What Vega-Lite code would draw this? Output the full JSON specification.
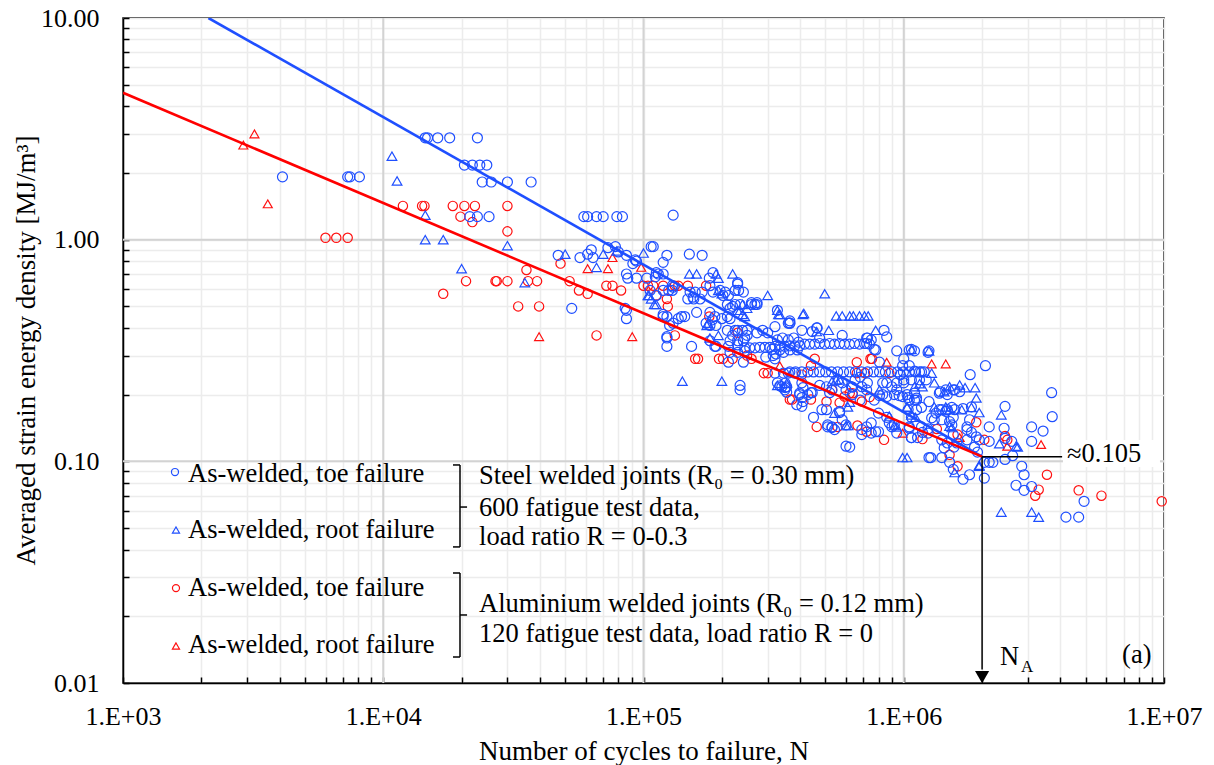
{
  "$schema": "https://vega.github.io/schema/vega-lite/v6.json",
  "width": 1041,
  "height": 665,
  "autosize": "none",
  "padding": {"left": 123, "top": 18, "right": 50, "bottom": 82},
  "background": "white",
  "config": {"font": "Liberation Serif", "view": {"stroke": "black", "strokeWidth": 1.5}},
  "datasets": {
    "pts": [
      {"N":2900,"E":2.67,"g":"ar"},{"N":3200,"E":3.0,"g":"ar"},{"N":3600,"E":1.45,"g":"ar"},{"N":39700,"E":0.365,"g":"ar"},{"N":90500,"E":0.365,"g":"ar"},{"N":61000,"E":0.74,"g":"ar"},{"N":73000,"E":0.74,"g":"ar"},{"N":76000,"E":0.83,"g":"ar"},{"N":98000,"E":0.75,"g":"ar"},{"N":334000,"E":0.27,"g":"ar"},{"N":860000,"E":0.28,"g":"ar"},{"N":1280000,"E":0.275,"g":"ar"},{"N":1450000,"E":0.275,"g":"ar"},{"N":990000,"E":0.134,"g":"ar"},{"N":1640000,"E":0.128,"g":"ar"},{"N":2500000,"E":0.117,"g":"ar"},{"N":3370000,"E":0.119,"g":"ar"},
      {"N":6000,"E":1.02,"g":"at"},{"N":6600,"E":1.02,"g":"at"},{"N":7300,"E":1.02,"g":"at"},{"N":11900,"E":1.42,"g":"at"},{"N":14100,"E":1.42,"g":"at"},{"N":14400,"E":1.42,"g":"at"},{"N":18500,"E":1.42,"g":"at"},{"N":20500,"E":1.42,"g":"at"},{"N":22500,"E":1.42,"g":"at"},{"N":30000,"E":1.42,"g":"at"},{"N":19800,"E":1.27,"g":"at"},{"N":22000,"E":1.2,"g":"at"},{"N":30000,"E":1.09,"g":"at"},{"N":17000,"E":0.57,"g":"at"},{"N":20800,"E":0.65,"g":"at"},{"N":27000,"E":0.65,"g":"at"},{"N":27300,"E":0.65,"g":"at"},{"N":30000,"E":0.65,"g":"at"},{"N":35500,"E":0.73,"g":"at"},{"N":36000,"E":0.65,"g":"at"},{"N":39000,"E":0.65,"g":"at"},{"N":33000,"E":0.5,"g":"at"},{"N":39700,"E":0.5,"g":"at"},{"N":48000,"E":0.78,"g":"at"},{"N":52000,"E":0.65,"g":"at"},{"N":56500,"E":0.59,"g":"at"},{"N":61000,"E":0.57,"g":"at"},{"N":66000,"E":0.37,"g":"at"},{"N":72000,"E":0.62,"g":"at"},{"N":76000,"E":0.62,"g":"at"},{"N":82000,"E":0.59,"g":"at"},{"N":100000,"E":0.62,"g":"at"},{"N":104000,"E":0.62,"g":"at"},{"N":109000,"E":0.62,"g":"at"},{"N":119000,"E":0.62,"g":"at"},{"N":132000,"E":0.62,"g":"at"},{"N":136000,"E":0.62,"g":"at"},{"N":148000,"E":0.62,"g":"at"},{"N":174000,"E":0.62,"g":"at"},{"N":112000,"E":0.56,"g":"at"},{"N":123000,"E":0.54,"g":"at"},{"N":124000,"E":0.5,"g":"at"},{"N":132000,"E":0.37,"g":"at"},{"N":179000,"E":0.45,"g":"at"},{"N":230000,"E":0.38,"g":"at"},{"N":158000,"E":0.29,"g":"at"},{"N":162000,"E":0.29,"g":"at"},{"N":195000,"E":0.29,"g":"at"},{"N":202000,"E":0.29,"g":"at"},{"N":220000,"E":0.29,"g":"at"},{"N":250000,"E":0.3,"g":"at"},{"N":260000,"E":0.29,"g":"at"},{"N":300000,"E":0.25,"g":"at"},{"N":290000,"E":0.25,"g":"at"},{"N":365000,"E":0.19,"g":"at"},{"N":372000,"E":0.19,"g":"at"},{"N":440000,"E":0.19,"g":"at"},{"N":505000,"E":0.186,"g":"at"},{"N":567000,"E":0.184,"g":"at"},{"N":440000,"E":0.27,"g":"at"},{"N":455000,"E":0.29,"g":"at"},{"N":406000,"E":0.246,"g":"at"},{"N":592000,"E":0.196,"g":"at"},{"N":636000,"E":0.203,"g":"at"},{"N":463000,"E":0.143,"g":"at"},{"N":557000,"E":0.143,"g":"at"},{"N":664000,"E":0.145,"g":"at"},{"N":720000,"E":0.136,"g":"at"},{"N":840000,"E":0.125,"g":"at"},{"N":755000,"E":0.29,"g":"at"},{"N":660000,"E":0.25,"g":"at"},{"N":710000,"E":0.25,"g":"at"},{"N":880000,"E":0.25,"g":"at"},{"N":1180000,"E":0.126,"g":"at"},{"N":1500000,"E":0.107,"g":"at"},{"N":1610000,"E":0.095,"g":"at"},{"N":1610000,"E":0.132,"g":"at"},{"N":1900000,"E":0.15,"g":"at"},{"N":2040000,"E":0.125,"g":"at"},{"N":530000,"E":0.21,"g":"at"},{"N":620000,"E":0.203,"g":"at"},{"N":690000,"E":0.186,"g":"at"},{"N":740000,"E":0.195,"g":"at"},{"N":660000,"E":0.28,"g":"at"},{"N":745000,"E":0.29,"g":"at"},{"N":1340000,"E":0.14,"g":"at"},{"N":2450000,"E":0.13,"g":"at"},{"N":2500000,"E":0.125,"g":"at"},{"N":3300000,"E":0.0745,"g":"at"},{"N":3200000,"E":0.07,"g":"at"},{"N":3550000,"E":0.087,"g":"at"},{"N":4700000,"E":0.074,"g":"at"},{"N":5750000,"E":0.07,"g":"at"},{"N":9800000,"E":0.066,"g":"at"},
      {"N":10800,"E":2.38,"g":"sr"},{"N":11300,"E":1.84,"g":"sr"},{"N":14500,"E":1.29,"g":"sr"},{"N":14500,"E":1.0,"g":"sr"},{"N":17000,"E":1.0,"g":"sr"},{"N":20000,"E":0.74,"g":"sr"},{"N":35000,"E":0.64,"g":"sr"},{"N":30000,"E":0.94,"g":"sr"},{"N":50000,"E":0.86,"g":"sr"},{"N":66000,"E":0.75,"g":"sr"},{"N":70000,"E":0.86,"g":"sr"},{"N":79000,"E":0.89,"g":"sr"},{"N":100000,"E":0.87,"g":"sr"},{"N":105000,"E":0.56,"g":"sr"},{"N":110000,"E":0.51,"g":"sr"},{"N":150000,"E":0.7,"g":"sr"},{"N":160000,"E":0.7,"g":"sr"},{"N":190000,"E":0.7,"g":"sr"},{"N":194000,"E":0.67,"g":"sr"},{"N":220000,"E":0.7,"g":"sr"},{"N":240000,"E":0.51,"g":"sr"},{"N":240000,"E":0.46,"g":"sr"},{"N":180000,"E":0.36,"g":"sr"},{"N":194000,"E":0.37,"g":"sr"},{"N":300000,"E":0.56,"g":"sr"},{"N":327000,"E":0.48,"g":"sr"},{"N":330000,"E":0.46,"g":"sr"},{"N":141000,"E":0.23,"g":"sr"},{"N":200000,"E":0.23,"g":"sr"},{"N":327000,"E":0.22,"g":"sr"},{"N":104000,"E":0.56,"g":"sr"},{"N":107000,"E":0.54,"g":"sr"},{"N":112000,"E":0.51,"g":"sr"},{"N":194000,"E":0.59,"g":"sr"},{"N":200000,"E":0.57,"g":"sr"},{"N":235000,"E":0.48,"g":"sr"},{"N":245000,"E":0.45,"g":"sr"},{"N":230000,"E":0.48,"g":"sr"},{"N":250000,"E":0.49,"g":"sr"},{"N":177000,"E":0.42,"g":"sr"},{"N":175000,"E":0.41,"g":"sr"},{"N":497000,"E":0.57,"g":"sr"},{"N":334000,"E":0.46,"g":"sr"},{"N":410000,"E":0.46,"g":"sr"},{"N":413000,"E":0.465,"g":"sr"},{"N":550000,"E":0.453,"g":"sr"},{"N":580000,"E":0.453,"g":"sr"},{"N":620000,"E":0.453,"g":"sr"},{"N":640000,"E":0.453,"g":"sr"},{"N":676000,"E":0.453,"g":"sr"},{"N":707000,"E":0.453,"g":"sr"},{"N":730000,"E":0.453,"g":"sr"},{"N":463000,"E":0.385,"g":"sr"},{"N":515000,"E":0.39,"g":"sr"},{"N":780000,"E":0.39,"g":"sr"},{"N":1070000,"E":0.32,"g":"sr"},{"N":1250000,"E":0.315,"g":"sr"},{"N":1280000,"E":0.25,"g":"sr"},{"N":1100000,"E":0.217,"g":"sr"},{"N":1180000,"E":0.217,"g":"sr"},{"N":1310000,"E":0.226,"g":"sr"},{"N":1430000,"E":0.206,"g":"sr"},{"N":1030000,"E":0.175,"g":"sr"},{"N":1310000,"E":0.176,"g":"sr"},{"N":530000,"E":0.229,"g":"sr"},{"N":550000,"E":0.233,"g":"sr"},{"N":610000,"E":0.176,"g":"sr"},{"N":620000,"E":0.185,"g":"sr"},{"N":600000,"E":0.145,"g":"sr"},{"N":612000,"E":0.145,"g":"sr"},{"N":920000,"E":0.145,"g":"sr"},{"N":940000,"E":0.143,"g":"sr"},{"N":542000,"E":0.165,"g":"sr"},{"N":807000,"E":0.21,"g":"sr"},{"N":355000,"E":0.225,"g":"sr"},{"N":1720000,"E":0.215,"g":"sr"},{"N":1880000,"E":0.215,"g":"sr"},{"N":1450000,"E":0.176,"g":"sr"},{"N":1500000,"E":0.171,"g":"sr"},{"N":1670000,"E":0.171,"g":"sr"},{"N":1820000,"E":0.175,"g":"sr"},{"N":1950000,"E":0.166,"g":"sr"},{"N":1500000,"E":0.144,"g":"sr"},{"N":1530000,"E":0.142,"g":"sr"},{"N":2370000,"E":0.162,"g":"sr"},{"N":2330000,"E":0.12,"g":"sr"},{"N":2700000,"E":0.117,"g":"sr"},{"N":2740000,"E":0.116,"g":"sr"},{"N":1570000,"E":0.089,"g":"sr"},{"N":1950000,"E":0.095,"g":"sr"},{"N":2370000,"E":0.059,"g":"sr"},{"N":3100000,"E":0.059,"g":"sr"},{"N":3300000,"E":0.056,"g":"sr"},{"N":990000,"E":0.104,"g":"sr"},{"N":1030000,"E":0.104,"g":"sr"},{"N":1030000,"E":0.176,"g":"sr"},{"N":880000,"E":0.16,"g":"sr"},{"N":1150000,"E":0.224,"g":"sr"},{"N":1070000,"E":0.162,"g":"sr"},{"N":1110000,"E":0.158,"g":"sr"},{"N":1900000,"E":0.193,"g":"sr"},{"N":1500000,"E":0.217,"g":"sr"},{"N":1640000,"E":0.221,"g":"sr"},{"N":567000,"E":0.233,"g":"sr"},{"N":1950000,"E":0.096,"g":"sr"},
      {"N":4100,"E":1.92,"g":"st"},{"N":7300,"E":1.92,"g":"st"},{"N":7450,"E":1.92,"g":"st"},{"N":8100,"E":1.92,"g":"st"},{"N":14500,"E":2.88,"g":"st"},{"N":14800,"E":2.88,"g":"st"},{"N":16200,"E":2.88,"g":"st"},{"N":18000,"E":2.88,"g":"st"},{"N":23000,"E":2.88,"g":"st"},{"N":20500,"E":2.17,"g":"st"},{"N":22000,"E":2.17,"g":"st"},{"N":23500,"E":2.17,"g":"st"},{"N":25000,"E":2.17,"g":"st"},{"N":24000,"E":1.82,"g":"st"},{"N":26000,"E":1.82,"g":"st"},{"N":30000,"E":1.82,"g":"st"},{"N":37000,"E":1.82,"g":"st"},{"N":21500,"E":1.27,"g":"st"},{"N":23000,"E":1.27,"g":"st"},{"N":25500,"E":1.27,"g":"st"},{"N":59000,"E":1.27,"g":"st"},{"N":61000,"E":1.27,"g":"st"},{"N":66000,"E":1.27,"g":"st"},{"N":70000,"E":1.27,"g":"st"},{"N":79000,"E":1.27,"g":"st"},{"N":83000,"E":1.27,"g":"st"},{"N":130000,"E":1.29,"g":"st"},
      {"N":47000,"E":0.85,"g":"st"},{"N":57000,"E":0.83,"g":"st"},{"N":61000,"E":0.86,"g":"st"},{"N":63000,"E":0.9,"g":"st"},{"N":64000,"E":0.83,"g":"st"},{"N":73000,"E":0.92,"g":"st"},{"N":78000,"E":0.93,"g":"st"},{"N":80000,"E":0.88,"g":"st"},{"N":86000,"E":0.85,"g":"st"},{"N":93000,"E":0.81,"g":"st"},{"N":107000,"E":0.93,"g":"st"},{"N":109000,"E":0.93,"g":"st"},{"N":123000,"E":0.85,"g":"st"},{"N":119000,"E":0.79,"g":"st"},{"N":150000,"E":0.86,"g":"st"},{"N":168000,"E":0.85,"g":"st"},{"N":86000,"E":0.7,"g":"st"},{"N":87000,"E":0.67,"g":"st"},{"N":94000,"E":0.67,"g":"st"},{"N":103000,"E":0.67,"g":"st"},{"N":112000,"E":0.71,"g":"st"},{"N":111000,"E":0.68,"g":"st"},{"N":119000,"E":0.7,"g":"st"},{"N":179000,"E":0.67,"g":"st"},{"N":130000,"E":0.61,"g":"st"},{"N":125000,"E":0.59,"g":"st"},{"N":119000,"E":0.59,"g":"st"},{"N":106000,"E":0.59,"g":"st"},{"N":156000,"E":0.54,"g":"st"},{"N":165000,"E":0.54,"g":"st"},{"N":148000,"E":0.54,"g":"st"},{"N":185000,"E":0.58,"g":"st"},{"N":202000,"E":0.56,"g":"st"},{"N":197000,"E":0.59,"g":"st"},{"N":225000,"E":0.59,"g":"st"},{"N":230000,"E":0.63,"g":"st"},{"N":210000,"E":0.51,"g":"st"},{"N":225000,"E":0.51,"g":"st"},{"N":260000,"E":0.51,"g":"st"},{"N":268000,"E":0.51,"g":"st"},{"N":123000,"E":0.45,"g":"st"},{"N":119000,"E":0.45,"g":"st"},{"N":144000,"E":0.45,"g":"st"},{"N":140000,"E":0.45,"g":"st"},{"N":160000,"E":0.47,"g":"st"},{"N":210000,"E":0.45,"g":"st"},{"N":188000,"E":0.45,"g":"st"},{"N":174000,"E":0.42,"g":"st"},{"N":180000,"E":0.41,"g":"st"},{"N":210000,"E":0.39,"g":"st"},{"N":225000,"E":0.39,"g":"st"},{"N":250000,"E":0.39,"g":"st"},{"N":242000,"E":0.35,"g":"st"},{"N":126000,"E":0.41,"g":"st"},{"N":130000,"E":0.42,"g":"st"},{"N":123000,"E":0.36,"g":"st"},{"N":123000,"E":0.33,"g":"st"},{"N":153000,"E":0.33,"g":"st"},{"N":190000,"E":0.33,"g":"st"},{"N":215000,"E":0.35,"g":"st"},{"N":230000,"E":0.35,"g":"st"},{"N":212000,"E":0.28,"g":"st"},{"N":242000,"E":0.28,"g":"st"},{"N":320000,"E":0.29,"g":"st"},{"N":323000,"E":0.305,"g":"st"},{"N":312000,"E":0.32,"g":"st"},{"N":300000,"E":0.38,"g":"st"},{"N":360000,"E":0.42,"g":"st"},{"N":85000,"E":0.49,"g":"st"},{"N":86000,"E":0.44,"g":"st"},{"N":53000,"E":0.49,"g":"st"},{"N":235000,"E":0.21,"g":"st"},
      {"N":94000,"E":0.8,"g":"st"},{"N":91000,"E":0.78,"g":"st"},{"N":114000,"E":0.7,"g":"st"},{"N":129000,"E":0.62,"g":"st"},{"N":129000,"E":0.59,"g":"st"},{"N":112000,"E":0.56,"g":"st"},{"N":151000,"E":0.58,"g":"st"},{"N":158000,"E":0.58,"g":"st"},{"N":168000,"E":0.58,"g":"st"},{"N":155000,"E":0.55,"g":"st"},{"N":180000,"E":0.62,"g":"st"},{"N":206000,"E":0.58,"g":"st"},{"N":212000,"E":0.56,"g":"st"},{"N":220000,"E":0.5,"g":"st"},{"N":235000,"E":0.51,"g":"st"},{"N":273000,"E":0.51,"g":"st"},{"N":215000,"E":0.49,"g":"st"},{"N":86000,"E":0.48,"g":"st"},{"N":119000,"E":0.46,"g":"st"},{"N":136000,"E":0.44,"g":"st"},{"N":180000,"E":0.47,"g":"st"},{"N":184000,"E":0.435,"g":"st"},{"N":190000,"E":0.41,"g":"st"},{"N":200000,"E":0.44,"g":"st"},{"N":215000,"E":0.44,"g":"st"},{"N":220000,"E":0.37,"g":"st"},{"N":230000,"E":0.39,"g":"st"},{"N":240000,"E":0.39,"g":"st"},{"N":245000,"E":0.36,"g":"st"},{"N":250000,"E":0.37,"g":"st"},{"N":273000,"E":0.38,"g":"st"},{"N":287000,"E":0.39,"g":"st"},{"N":320000,"E":0.405,"g":"st"},{"N":365000,"E":0.42,"g":"st"},{"N":123000,"E":0.365,"g":"st"},{"N":180000,"E":0.35,"g":"st"},{"N":188000,"E":0.33,"g":"st"},{"N":212000,"E":0.33,"g":"st"},{"N":215000,"E":0.31,"g":"st"},{"N":230000,"E":0.31,"g":"st"},{"N":230000,"E":0.335,"g":"st"},{"N":245000,"E":0.315,"g":"st"},{"N":295000,"E":0.295,"g":"st"},{"N":315000,"E":0.3,"g":"st"},{"N":345000,"E":0.31,"g":"st"},{"N":320000,"E":0.25,"g":"st"},{"N":345000,"E":0.25,"g":"st"},{"N":360000,"E":0.25,"g":"st"},{"N":380000,"E":0.25,"g":"st"},{"N":235000,"E":0.22,"g":"st"},{"N":350000,"E":0.225,"g":"st"},{"N":350000,"E":0.215,"g":"st"},
      {"N":245000,"E":0.325,"g":"st"},{"N":256000,"E":0.325,"g":"st"},{"N":268000,"E":0.325,"g":"st"},{"N":280000,"E":0.327,"g":"st"},{"N":293000,"E":0.327,"g":"st"},{"N":306000,"E":0.327,"g":"st"},{"N":320000,"E":0.33,"g":"st"},{"N":334000,"E":0.33,"g":"st"},{"N":349000,"E":0.33,"g":"st"},{"N":365000,"E":0.332,"g":"st"},{"N":381000,"E":0.332,"g":"st"},{"N":398000,"E":0.332,"g":"st"},{"N":327000,"E":0.353,"g":"st"},{"N":342000,"E":0.36,"g":"st"},{"N":360000,"E":0.353,"g":"st"},{"N":378000,"E":0.36,"g":"st"},{"N":394000,"E":0.345,"g":"st"},{"N":334000,"E":0.318,"g":"st"},{"N":365000,"E":0.318,"g":"st"},{"N":390000,"E":0.318,"g":"st"},
      {"N":416000,"E":0.338,"g":"st"},{"N":435000,"E":0.338,"g":"st"},{"N":455000,"E":0.338,"g":"st"},{"N":475000,"E":0.34,"g":"st"},{"N":497000,"E":0.338,"g":"st"},{"N":519000,"E":0.34,"g":"st"},{"N":542000,"E":0.338,"g":"st"},{"N":567000,"E":0.34,"g":"st"},{"N":592000,"E":0.338,"g":"st"},{"N":619000,"E":0.338,"g":"st"},{"N":647000,"E":0.34,"g":"st"},{"N":676000,"E":0.338,"g":"st"},{"N":707000,"E":0.34,"g":"st"},{"N":739000,"E":0.338,"g":"st"},
      {"N":365000,"E":0.253,"g":"st"},{"N":384000,"E":0.253,"g":"st"},{"N":406000,"E":0.253,"g":"st"},{"N":428000,"E":0.253,"g":"st"},{"N":450000,"E":0.253,"g":"st"},{"N":475000,"E":0.253,"g":"st"},{"N":501000,"E":0.253,"g":"st"},{"N":528000,"E":0.253,"g":"st"},{"N":557000,"E":0.253,"g":"st"},{"N":587000,"E":0.253,"g":"st"},{"N":619000,"E":0.253,"g":"st"},{"N":652000,"E":0.253,"g":"st"},{"N":688000,"E":0.253,"g":"st"},{"N":726000,"E":0.253,"g":"st"},{"N":765000,"E":0.253,"g":"st"},{"N":807000,"E":0.253,"g":"st"},{"N":850000,"E":0.253,"g":"st"},{"N":897000,"E":0.253,"g":"st"},{"N":946000,"E":0.253,"g":"st"},{"N":997000,"E":0.253,"g":"st"},{"N":1050000,"E":0.253,"g":"st"},{"N":1110000,"E":0.253,"g":"st"},{"N":1170000,"E":0.253,"g":"st"},
      {"N":1070000,"E":0.32,"g":"st"},{"N":990000,"E":0.27,"g":"st"},{"N":1050000,"E":0.27,"g":"st"},{"N":1100000,"E":0.255,"g":"st"},{"N":1150000,"E":0.253,"g":"st"},{"N":1200000,"E":0.253,"g":"st"},{"N":2060000,"E":0.27,"g":"st"},{"N":1800000,"E":0.246,"g":"st"},{"N":1380000,"E":0.206,"g":"st"},{"N":1450000,"E":0.21,"g":"st"},{"N":1570000,"E":0.21,"g":"st"},{"N":1640000,"E":0.206,"g":"st"},{"N":1000000,"E":0.226,"g":"st"},{"N":1030000,"E":0.2,"g":"st"},{"N":1040000,"E":0.194,"g":"st"},{"N":1100000,"E":0.203,"g":"st"},{"N":1120000,"E":0.189,"g":"st"},{"N":1170000,"E":0.175,"g":"st"},{"N":1120000,"E":0.171,"g":"st"},{"N":1250000,"E":0.186,"g":"st"},{"N":1400000,"E":0.171,"g":"st"},{"N":1450000,"E":0.168,"g":"st"},{"N":1530000,"E":0.175,"g":"st"},{"N":1570000,"E":0.171,"g":"st"},{"N":1690000,"E":0.173,"g":"st"},{"N":1310000,"E":0.154,"g":"st"},{"N":1500000,"E":0.151,"g":"st"},{"N":1530000,"E":0.146,"g":"st"},{"N":1240000,"E":0.14,"g":"st"},{"N":1180000,"E":0.135,"g":"st"},{"N":1130000,"E":0.128,"g":"st"},{"N":1750000,"E":0.139,"g":"st"},{"N":1820000,"E":0.135,"g":"st"},{"N":1750000,"E":0.125,"g":"st"},{"N":1900000,"E":0.129,"g":"st"},{"N":1950000,"E":0.125,"g":"st"},{"N":1870000,"E":0.116,"g":"st"},{"N":1920000,"E":0.11,"g":"st"},{"N":1400000,"E":0.125,"g":"st"},{"N":1470000,"E":0.121,"g":"st"},{"N":1560000,"E":0.116,"g":"st"},{"N":1430000,"E":0.115,"g":"st"},{"N":2130000,"E":0.143,"g":"st"},{"N":2130000,"E":0.123,"g":"st"},{"N":2430000,"E":0.141,"g":"st"},{"N":2450000,"E":0.177,"g":"st"},{"N":2450000,"E":0.127,"g":"st"},{"N":2600000,"E":0.123,"g":"st"},{"N":3100000,"E":0.143,"g":"st"},{"N":3430000,"E":0.137,"g":"st"},{"N":3100000,"E":0.123,"g":"st"},{"N":3700000,"E":0.204,"g":"st"},{"N":3720000,"E":0.159,"g":"st"},{"N":2040000,"E":0.099,"g":"st"},{"N":2130000,"E":0.099,"g":"st"},{"N":2200000,"E":0.099,"g":"st"},{"N":2450000,"E":0.102,"g":"st"},{"N":2620000,"E":0.106,"g":"st"},{"N":2840000,"E":0.095,"g":"st"},{"N":2900000,"E":0.087,"g":"st"},{"N":2700000,"E":0.078,"g":"st"},{"N":2900000,"E":0.074,"g":"st"},{"N":3100000,"E":0.077,"g":"st"},{"N":2040000,"E":0.084,"g":"st"},{"N":1790000,"E":0.087,"g":"st"},{"N":1690000,"E":0.083,"g":"st"},{"N":1400000,"E":0.104,"g":"st"},{"N":1500000,"E":0.099,"g":"st"},{"N":1270000,"E":0.104,"g":"st"},{"N":4930000,"E":0.066,"g":"st"},{"N":4200000,"E":0.056,"g":"st"},{"N":4700000,"E":0.056,"g":"st"},
      {"N":398000,"E":0.203,"g":"st"},{"N":406000,"E":0.194,"g":"st"},{"N":445000,"E":0.204,"g":"st"},{"N":505000,"E":0.171,"g":"st"},{"N":567000,"E":0.166,"g":"st"},{"N":510000,"E":0.146,"g":"st"},{"N":530000,"E":0.143,"g":"st"},{"N":600000,"E":0.117,"g":"st"},{"N":690000,"E":0.139,"g":"st"},{"N":750000,"E":0.149,"g":"st"},{"N":780000,"E":0.136,"g":"st"},{"N":880000,"E":0.149,"g":"st"},{"N":920000,"E":0.146,"g":"st"},{"N":1050000,"E":0.143,"g":"st"},{"N":1070000,"E":0.128,"g":"st"},{"N":1250000,"E":0.104,"g":"st"},{"N":1550000,"E":0.092,"g":"st"},{"N":1100000,"E":0.189,"g":"st"},{"N":1280000,"E":0.157,"g":"st"},{"N":1370000,"E":0.171,"g":"st"},{"N":1750000,"E":0.143,"g":"st"},{"N":1790000,"E":0.154,"g":"st"},{"N":1820000,"E":0.176,"g":"st"},{"N":327000,"E":0.226,"g":"st"},{"N":334000,"E":0.219,"g":"st"},{"N":355000,"E":0.205,"g":"st"},{"N":388000,"E":0.18,"g":"st"},{"N":406000,"E":0.177,"g":"st"},{"N":600000,"E":0.21,"g":"st"},{"N":635000,"E":0.216,"g":"st"},{"N":720000,"E":0.21,"g":"st"},{"N":807000,"E":0.198,"g":"st"},{"N":830000,"E":0.226,"g":"st"},{"N":900000,"E":0.217,"g":"st"},{"N":960000,"E":0.198,"g":"st"},{"N":542000,"E":0.139,"g":"st"},{"N":600000,"E":0.146,"g":"st"},
      {"N":365000,"E":0.42,"g":"st"},{"N":465000,"E":0.4,"g":"st"},{"N":726000,"E":0.36,"g":"st"},{"N":720000,"E":0.34,"g":"st"},{"N":770000,"E":0.32,"g":"st"},{"N":940000,"E":0.315,"g":"st"},{"N":1000000,"E":0.29,"g":"st"},{"N":1240000,"E":0.31,"g":"st"},{"N":807000,"E":0.28,"g":"st"},{"N":970000,"E":0.246,"g":"st"},{"N":355000,"E":0.217,"g":"st"},{"N":349000,"E":0.21,"g":"st"},{"N":340000,"E":0.217,"g":"st"},{"N":406000,"E":0.226,"g":"st"},{"N":410000,"E":0.215,"g":"st"},{"N":398000,"E":0.2,"g":"st"},{"N":410000,"E":0.186,"g":"st"},{"N":440000,"E":0.204,"g":"st"},{"N":428000,"E":0.2,"g":"st"},{"N":475000,"E":0.22,"g":"st"},{"N":505000,"E":0.217,"g":"st"},{"N":519000,"E":0.204,"g":"st"},{"N":530000,"E":0.21,"g":"st"},{"N":560000,"E":0.233,"g":"st"},{"N":580000,"E":0.226,"g":"st"},{"N":630000,"E":0.217,"g":"st"},{"N":650000,"E":0.233,"g":"st"},{"N":680000,"E":0.24,"g":"st"},{"N":690000,"E":0.217,"g":"st"},{"N":725000,"E":0.226,"g":"st"},{"N":635000,"E":0.2,"g":"st"},{"N":680000,"E":0.189,"g":"st"},{"N":770000,"E":0.189,"g":"st"},{"N":830000,"E":0.2,"g":"st"},{"N":860000,"E":0.196,"g":"st"},{"N":920000,"E":0.2,"g":"st"},{"N":940000,"E":0.21,"g":"st"},{"N":860000,"E":0.226,"g":"st"},{"N":940000,"E":0.226,"g":"st"},{"N":1000000,"E":0.233,"g":"st"},{"N":1070000,"E":0.233,"g":"st"},{"N":1150000,"E":0.233,"g":"st"},{"N":1220000,"E":0.233,"g":"st"},{"N":990000,"E":0.196,"g":"st"},{"N":1050000,"E":0.189,"g":"st"},{"N":1120000,"E":0.193,"g":"st"},{"N":800000,"E":0.165,"g":"st"},{"N":860000,"E":0.158,"g":"st"},{"N":1040000,"E":0.171,"g":"st"},{"N":1070000,"E":0.158,"g":"st"},{"N":450000,"E":0.158,"g":"st"},{"N":485000,"E":0.171,"g":"st"},{"N":567000,"E":0.168,"g":"st"},{"N":580000,"E":0.154,"g":"st"},{"N":510000,"E":0.143,"g":"st"},{"N":530000,"E":0.142,"g":"st"},{"N":690000,"E":0.132,"g":"st"},{"N":720000,"E":0.143,"g":"st"},{"N":750000,"E":0.134,"g":"st"},{"N":800000,"E":0.136,"g":"st"},{"N":620000,"E":0.116,"g":"st"},{"N":900000,"E":0.143,"g":"st"},{"N":940000,"E":0.134,"g":"st"},{"N":1050000,"E":0.141,"g":"st"},{"N":1070000,"E":0.128,"g":"st"},{"N":1170000,"E":0.143,"g":"st"},{"N":1240000,"E":0.134,"g":"st"},{"N":1330000,"E":0.165,"g":"st"},{"N":1400000,"E":0.154,"g":"st"},{"N":1470000,"E":0.171,"g":"st"},{"N":1550000,"E":0.158,"g":"st"},{"N":1370000,"E":0.203,"g":"st"},{"N":1470000,"E":0.2,"g":"st"},{"N":1550000,"E":0.21,"g":"st"},{"N":1550000,"E":0.132,"g":"st"},{"N":1600000,"E":0.121,"g":"st"},
      {"N":185000,"E":0.71,"g":"st"},{"N":230000,"E":0.64,"g":"st"},{"N":232000,"E":0.59,"g":"st"},{"N":242000,"E":0.58,"g":"st"},{"N":260000,"E":0.52,"g":"st"},{"N":273000,"E":0.52,"g":"st"},{"N":327000,"E":0.48,"g":"st"},{"N":365000,"E":0.43,"g":"st"},{"N":463000,"E":0.4,"g":"st"},{"N":406000,"E":0.39,"g":"st"},{"N":445000,"E":0.385,"g":"st"},{"N":475000,"E":0.36,"g":"st"},{"N":580000,"E":0.37,"g":"st"},{"N":720000,"E":0.36,"g":"st"},{"N":750000,"E":0.353,"g":"st"},{"N":780000,"E":0.318,"g":"st"},{"N":840000,"E":0.39,"g":"st"},{"N":860000,"E":0.364,"g":"st"},{"N":1050000,"E":0.318,"g":"st"},{"N":1100000,"E":0.315,"g":"st"},{"N":1250000,"E":0.315,"g":"st"}
    ]
  },
  "layer": [
    {
      "data": {"values": [{"N": 10000}, {"N": 100000}, {"N": 1000000}]},
      "mark": {"type": "rule", "color": "#d3d3d3", "strokeWidth": 2},
      "encoding": {
        "x": {"field": "N", "type": "quantitative",
          "scale": {"type": "log", "domain": [1000, 10000000], "nice": false},
          "axis": {
            "values": [1000,2000,3000,4000,5000,6000,7000,8000,9000,10000,20000,30000,40000,50000,60000,70000,80000,90000,100000,200000,300000,400000,500000,600000,700000,800000,900000,1000000,2000000,3000000,4000000,5000000,6000000,7000000,8000000,9000000,10000000],
            "labelExpr": "datum.value == 1000 ? '1.E+03' : datum.value == 10000 ? '1.E+04' : datum.value == 100000 ? '1.E+05' : datum.value == 1000000 ? '1.E+06' : datum.value == 10000000 ? '1.E+07' : ''",
            "labelOverlap": false, "labelFlush": false, "labelBound": false,
            "labelFont": "Liberation Serif", "labelFontSize": 26, "labelColor": "black", "labelPadding": 26,
            "tickSize": -6, "tickColor": "black", "tickWidth": 1.5,
            "domainColor": "black", "domainWidth": 1.5,
            "grid": true, "gridColor": "#ececec", "gridWidth": 1.5,
            "title": "Number of cycles to failure, N", "titleFont": "Liberation Serif", "titleFontSize": 27, "titleFontWeight": "normal", "titleColor": "black",
            "titleBaseline": "alphabetic", "titleX": 520.5, "titleY": 76
          }
        }
      }
    },
    {
      "data": {"values": [{"E": 0.1}, {"E": 1}]},
      "mark": {"type": "rule", "color": "#d3d3d3", "strokeWidth": 2},
      "encoding": {
        "y": {"field": "E", "type": "quantitative",
          "scale": {"type": "log", "domain": [0.01, 10], "nice": false},
          "axis": {
            "values": [0.01,0.02,0.03,0.04,0.05,0.06,0.07,0.08,0.09,0.1,0.2,0.3,0.4,0.5,0.6,0.7,0.8,0.9,1,2,3,4,5,6,7,8,9,10],
            "labelExpr": "datum.value == 0.01 ? '0.01' : datum.value == 0.1 ? '0.10' : datum.value == 1 ? '1.00' : datum.value == 10 ? '10.00' : ''",
            "labelOverlap": false, "labelFlush": false, "labelBound": false,
            "labelFont": "Liberation Serif", "labelFontSize": 26, "labelColor": "black", "labelPadding": 30,
            "tickSize": -6, "tickColor": "black", "tickWidth": 1.5,
            "domainColor": "black", "domainWidth": 1.5,
            "grid": true, "gridColor": "#ececec", "gridWidth": 1.5,
            "title": "Averaged strain energy density [MJ/m³]", "titleFont": "Liberation Serif", "titleFontSize": 27, "titleFontWeight": "normal", "titleColor": "black",
            "titleBaseline": "alphabetic", "titleAngle": -90, "titleX": -89, "titleY": 332
          }
        }
      }
    },
    {
      "data": {"values": [{"N": 4090000, "N2": 9650000, "E": 0.1249, "E2": 0.0943}]},
      "mark": {"type": "rect", "color": "white"},
      "encoding": {
        "x": {"field": "N", "type": "quantitative"},
        "x2": {"field": "N2"},
        "y": {"field": "E", "type": "quantitative"},
        "y2": {"field": "E2"}
      }
    },
    {
      "data": {"name": "pts"},
      "mark": {"type": "point", "filled": false, "strokeWidth": 1.2, "opacity": 1},
      "encoding": {
        "x": {"field": "N", "type": "quantitative"},
        "y": {"field": "E", "type": "quantitative"},
        "color": {"field": "g", "type": "nominal", "scale": {"domain": ["st","sr","at","ar"], "range": ["#1f4fff","#1f4fff","#ff1010","#ff1010"]}, "legend": null},
        "shape": {"field": "g", "type": "nominal", "scale": {"domain": ["st","sr","at","ar"], "range": ["circle","triangle-up","circle","triangle-up"]}, "legend": null},
        "size": {"field": "g", "type": "nominal", "scale": {"domain": ["st","sr","at","ar"], "range": [100,80,100,80]}, "legend": null}
      }
    },
    {
      "data": {"values": [
        {"N": 2130, "E": 10, "s": "b"}, {"N": 2000000, "E": 0.105, "s": "b"},
        {"N": 1000, "E": 4.6, "s": "r"}, {"N": 2000000, "E": 0.105, "s": "r"}
      ]},
      "mark": {"type": "line", "strokeWidth": 2.6, "clip": true},
      "encoding": {
        "x": {"field": "N", "type": "quantitative"},
        "y": {"field": "E", "type": "quantitative"},
        "detail": {"field": "s"},
        "stroke": {"field": "s", "type": "nominal", "scale": {"domain": ["b","r"], "range": ["#1f4fff","#ff0000"]}, "legend": null}
      }
    },
    {
      "data": {"values": [
        {"N": 2000000, "N2": 2000000, "E": 0.105, "E2": 0.0115},
        {"N": 2000000, "N2": 4060000, "E": 0.105, "E2": 0.105},
        {"N": 19720, "N2": 19720, "E": 0.0963, "E2": 0.0411},
        {"N": 18530, "N2": 19720, "E": 0.0963, "E2": 0.0963},
        {"N": 18530, "N2": 19720, "E": 0.0411, "E2": 0.0411},
        {"N": 19720, "N2": 20990, "E": 0.0622, "E2": 0.0622},
        {"N": 19720, "N2": 19720, "E": 0.03135, "E2": 0.0131},
        {"N": 18530, "N2": 19720, "E": 0.03135, "E2": 0.03135},
        {"N": 18530, "N2": 19720, "E": 0.0131, "E2": 0.0131},
        {"N": 19720, "N2": 20990, "E": 0.02027, "E2": 0.02027}
      ]},
      "mark": {"type": "rule", "color": "black", "strokeWidth": 1.5},
      "encoding": {
        "x": {"field": "N", "type": "quantitative"},
        "x2": {"field": "N2"},
        "y": {"field": "E", "type": "quantitative"},
        "y2": {"field": "E2"}
      }
    },
    {
      "data": {"values": [{"N": 2000000, "E": 0.01064}]},
      "mark": {"type": "point", "shape": "triangle-down", "filled": true, "color": "black", "size": 200, "opacity": 1},
      "encoding": {
        "x": {"field": "N", "type": "quantitative"},
        "y": {"field": "E", "type": "quantitative"}
      }
    },
    {
      "data": {"values": [
        {"N": 1584, "E": 0.0895, "g": "st"},
        {"N": 1598, "E": 0.049, "g": "sr"},
        {"N": 1598, "E": 0.0268, "g": "at"},
        {"N": 1598, "E": 0.01469, "g": "ar"}
      ]},
      "mark": {"type": "point", "filled": false, "strokeWidth": 1.2, "size": 50, "opacity": 1},
      "encoding": {
        "x": {"field": "N", "type": "quantitative"},
        "y": {"field": "E", "type": "quantitative"},
        "color": {"field": "g", "type": "nominal", "legend": null},
        "shape": {"field": "g", "type": "nominal", "legend": null}
      }
    },
    {
      "data": {"values": [
        {"N": 1778, "E": 0.0807, "t": "As-welded, toe failure"},
        {"N": 1778, "E": 0.0451, "t": "As-welded, root failure"},
        {"N": 1778, "E": 0.0247, "t": "As-welded, toe failure"},
        {"N": 1778, "E": 0.01366, "t": "As-welded, root failure"},
        {"N": 23350, "E": 0.079, "t": "Steel welded joints (R₀ = 0.30 mm)"},
        {"N": 23350, "E": 0.0567, "t": "600 fatigue test data,"},
        {"N": 23350, "E": 0.04195, "t": "load ratio R = 0-0.3"},
        {"N": 23350, "E": 0.0209, "t": "Aluminium welded joints (R₀ = 0.12 mm)"},
        {"N": 23350, "E": 0.01531, "t": "120 fatigue test data, load ratio R = 0"},
        {"N": 4240000, "E": 0.0993, "t": "≈0.105"},
        {"N": 2344000, "E": 0.01206, "t": "N"},
        {"N": 6900000, "E": 0.0123, "t": "(a)"}
      ]},
      "mark": {"type": "text", "align": "left", "baseline": "alphabetic", "font": "Liberation Serif", "fontSize": 26.5, "color": "black"},
      "encoding": {
        "x": {"field": "N", "type": "quantitative"},
        "y": {"field": "E", "type": "quantitative"},
        "text": {"field": "t"}
      }
    },
    {
      "data": {"values": [{"N": 2820000, "E": 0.01121, "t": "A"}]},
      "mark": {"type": "text", "align": "left", "baseline": "alphabetic", "font": "Liberation Serif", "fontSize": 17, "color": "black"},
      "encoding": {
        "x": {"field": "N", "type": "quantitative"},
        "y": {"field": "E", "type": "quantitative"},
        "text": {"field": "t"}
      }
    }
  ]
}
